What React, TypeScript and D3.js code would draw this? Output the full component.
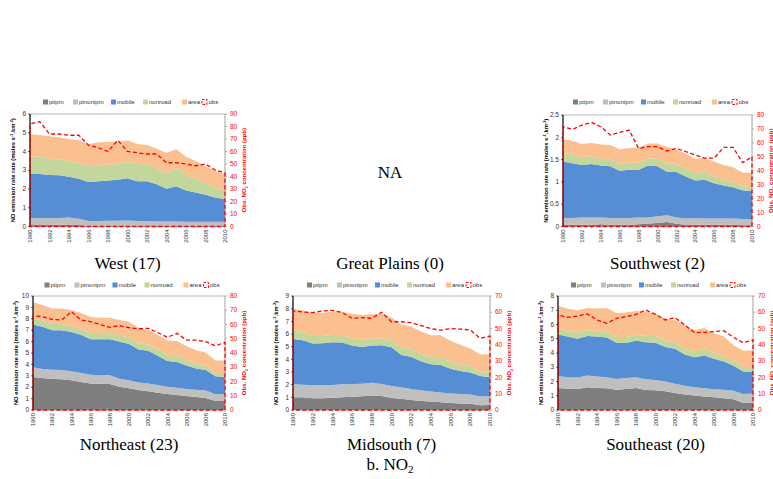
import React from "react";
import * as d3 from "d3";

// ---------- categories ----------
const years = [1990, 1991, 1992, 1993, 1994, 1995, 1996, 1997, 1998, 1999, 2000, 2001, 2002, 2003, 2004, 2005, 2006, 2007, 2008, 2009, 2010];
const yearTickLabels = [1990, 1992, 1994, 1996, 1998, 2000, 2002, 2004, 2006, 2008, 2010];
const seriesNames = ["ptipm", "ptnonipm", "mobile", "nonroad", "area"];
const obsName = "obs";

// ---------- data: stacked level (top of each layer) in moles s-1 km-2, obs in ppb ----------
// West (17)
const westPtipm = [0.08, 0.08, 0.1, 0.1, 0.1, 0.08, 0.03, 0.03, 0.03, 0.03, 0.03, 0.03, 0.03, 0.03, 0.03, 0.03, 0.03, 0.03, 0.03, 0.03, 0.03];
const westPtnonipm = [0.45, 0.45, 0.46, 0.45, 0.48, 0.42, 0.3, 0.3, 0.31, 0.31, 0.32, 0.3, 0.28, 0.27, 0.27, 0.27, 0.26, 0.26, 0.26, 0.25, 0.25];
const westMobile = [2.8, 2.8, 2.75, 2.73, 2.65, 2.55, 2.38, 2.42, 2.45, 2.5, 2.58, 2.42, 2.42, 2.25, 2.02, 2.15, 1.92, 1.82, 1.7, 1.55, 1.45];
const westNonroad = [3.75, 3.72, 3.63, 3.58, 3.48, 3.38, 3.2, 3.25, 3.3, 3.33, 3.45, 3.35, 3.32, 3.1, 2.85, 3.1, 2.75, 2.52, 2.32, 2.05, 1.9];
const westArea = [4.92, 4.88, 4.82, 4.75, 4.67, 4.6, 4.4, 4.48, 4.52, 4.52, 4.6, 4.4, 4.35, 4.15, 3.93, 4.12, 3.72, 3.5, 3.22, 2.95, 2.8];
const westObs = [82, 84, 74, 74, 73, 73, 65, 63, 60, 69, 60, 59, 58, 58, 51, 51, 50, 48.6, 50, 45, 43];

// Southwest (2)
const swPtipm = [0.04, 0.04, 0.04, 0.04, 0.05, 0.04, 0.04, 0.04, 0.05, 0.07, 0.08, 0.1, 0.06, 0.04, 0.04, 0.04, 0.04, 0.04, 0.04, 0.03, 0.03];
const swPtnonipm = [0.19, 0.19, 0.2, 0.2, 0.2, 0.19, 0.19, 0.19, 0.2, 0.2, 0.23, 0.25, 0.2, 0.18, 0.19, 0.18, 0.18, 0.18, 0.18, 0.17, 0.17];
const swMobile = [1.46, 1.42, 1.38, 1.4, 1.37, 1.35, 1.25, 1.27, 1.27, 1.37, 1.35, 1.23, 1.22, 1.12, 1.03, 1.05, 0.97, 0.92, 0.88, 0.81, 0.79];
const swNonroad = [1.65, 1.62, 1.55, 1.57, 1.52, 1.5, 1.4, 1.43, 1.43, 1.53, 1.52, 1.42, 1.4, 1.3, 1.2, 1.23, 1.12, 1.05, 1.0, 0.9, 0.88];
const swArea = [1.95, 1.92, 1.85, 1.87, 1.84, 1.83, 1.73, 1.76, 1.77, 1.86, 1.86, 1.78, 1.72, 1.63, 1.52, 1.54, 1.45, 1.38, 1.33, 1.21, 1.2];
const swObs = [71.6, 69.7, 72.8, 74.7, 71.6, 65.6, 67.5, 69.2, 56, 57.3, 57.3, 54.2, 56, 53.7, 51.3, 49, 49, 56.8, 56.8, 45.8, 50];

// Northeast (23)
const nePtipm = [2.9, 2.8, 2.72, 2.7, 2.6, 2.45, 2.32, 2.3, 2.28, 2.05, 1.9, 1.75, 1.65, 1.52, 1.4, 1.32, 1.22, 1.15, 1.05, 0.8, 0.78];
const nePtnonipm = [3.75, 3.6, 3.52, 3.5, 3.4, 3.25, 3.1, 3.05, 3.05, 2.75, 2.6, 2.42, 2.32, 2.2, 2.05, 1.95, 1.85, 1.78, 1.7, 1.38, 1.4];
const neMobile = [7.5, 7.3, 7.0, 7.0, 6.85, 6.6, 6.2, 6.2, 6.2, 6.0, 5.8, 5.3, 5.2, 4.75, 4.3, 4.2, 3.9, 3.65, 3.5, 2.95, 2.9];
const neNonroad = [8.05, 7.85, 7.55, 7.55, 7.35, 7.15, 6.75, 6.75, 6.75, 6.55, 6.35, 5.85, 5.75, 5.3, 4.85, 4.8, 4.4, 4.05, 3.9, 3.25, 3.25];
const neArea = [9.45, 9.2, 8.9, 8.9, 8.75, 8.5, 8.15, 8.1, 8.1, 7.9, 7.75, 7.2, 7.05, 6.6, 6.1, 6.05, 5.6, 5.25, 5.05, 4.35, 4.35];
const neObs = [66, 65.5, 63.6, 63.2, 69, 63.2, 62, 60, 58, 59.2, 57.8, 57, 57.3, 54.3, 51, 53.8, 49, 49, 48, 45, 47.5];

// Midsouth (7)
const msPtipm = [1.0, 1.0, 0.92, 0.92, 0.97, 1.0, 1.05, 1.08, 1.15, 1.1, 0.95, 0.88, 0.78, 0.72, 0.68, 0.62, 0.55, 0.52, 0.5, 0.38, 0.4];
const msPtnonipm = [2.05, 2.0, 1.95, 1.95, 1.97, 2.03, 2.05, 2.07, 2.15, 2.05, 1.9, 1.8, 1.65, 1.55, 1.47, 1.38, 1.3, 1.27, 1.22, 1.07, 1.1];
const msMobile = [5.6, 5.5, 5.25, 5.27, 5.35, 5.32, 5.1, 4.97, 5.1, 5.12, 4.95, 4.35, 4.2, 3.85, 3.62, 3.55, 3.25, 3.07, 2.97, 2.68, 2.6];
const msNonroad = [6.3, 6.15, 5.85, 5.85, 5.92, 5.92, 5.65, 5.52, 5.62, 5.67, 5.5, 4.95, 4.82, 4.45, 4.2, 4.17, 3.8, 3.58, 3.45, 3.0, 2.95];
const msArea = [8.0, 7.85, 7.65, 7.67, 7.75, 7.75, 7.6, 7.5, 7.55, 7.6, 7.3, 6.75, 6.6, 6.2, 5.9, 5.9, 5.45, 5.15, 4.85, 4.4, 4.4];
const msObs = [60.8, 60.2, 59.8, 60.8, 61.2, 59.8, 56.3, 56.7, 56.3, 60, 54.2, 54.2, 53.6, 51.8, 50, 49, 50, 49.7, 49.1, 44, 45.4];

// Southeast (20)
const sePtipm = [1.55, 1.5, 1.48, 1.6, 1.55, 1.52, 1.42, 1.48, 1.55, 1.4, 1.38, 1.32, 1.2, 1.08, 1.02, 0.95, 0.9, 0.82, 0.75, 0.5, 0.52];
const sePtnonipm = [2.38, 2.3, 2.28, 2.42, 2.35, 2.3, 2.18, 2.25, 2.3, 2.15, 2.1, 2.0, 1.85, 1.7, 1.6, 1.52, 1.45, 1.42, 1.35, 1.12, 1.15];
const seMobile = [5.3, 5.15, 5.0, 5.2, 5.15, 5.08, 4.72, 4.7, 4.88, 4.75, 4.72, 4.42, 4.3, 3.9, 3.7, 3.82, 3.6, 3.4, 3.1, 2.7, 2.7];
const seNonroad = [5.75, 5.55, 5.45, 5.62, 5.55, 5.52, 5.12, 5.12, 5.28, 5.2, 5.2, 4.9, 4.75, 4.3, 4.1, 4.3, 4.0, 3.75, 3.45, 3.02, 3.02];
const seArea = [7.32, 7.1, 7.0, 7.15, 7.12, 7.15, 6.8, 6.85, 6.95, 6.9, 6.78, 6.4, 6.3, 5.95, 5.6, 5.75, 5.4, 5.15, 4.55, 4.15, 4.2];
const seObs = [58.3, 56.9, 57.7, 59, 55.3, 53.2, 56.3, 57.3, 58.7, 61.4, 58.7, 55.3, 56.7, 52.2, 47.5, 47.7, 48.1, 48.7, 44.6, 41.3, 43];

// ---------- axis ticks ----------
const westLeftTicks = [0, 1, 2, 3, 4, 5, 6];
const westRightTicks = [0, 10, 20, 30, 40, 50, 60, 70, 80, 90];
const swLeftTicks = [0, 0.5, 1, 1.5, 2, 2.5];
const swRightTicks = [0, 10, 20, 30, 40, 50, 60, 70, 80];
const neLeftTicks = [0, 1, 2, 3, 4, 5, 6, 7, 8, 9, 10];
const neRightTicks = [0, 10, 20, 30, 40, 50, 60, 70, 80];
const msLeftTicks = [0, 1, 2, 3, 4, 5, 6, 7, 8, 9];
const msRightTicks = [0, 10, 20, 30, 40, 50, 60, 70];
const seLeftTicks = [0, 1, 2, 3, 4, 5, 6, 7, 8];
const seRightTicks = [0, 10, 20, 30, 40, 50, 60, 70];

const COLORS = ["#7f7f7f", "#bfbfbf", "#558ed5", "#c3d69b", "#fac090"];
const RED = "#ff0000";
const SANS = "'Liberation Sans', Arial, sans-serif";
const SERIF = "'Liberation Serif', 'Times New Roman', serif";

type PanelProps = {
  x0: number; x1: number; yTop: number; yBot: number;
  leftTicks: number[]; rightTicks: number[];
  layers: number[][]; obs: number[];
  title: string; titleY: number; legendY: number;
};

const legendOffsets = [-84.5, -54.5, -16.5, 15.5, 54.5, 74.5];

function Panel(p: PanelProps) {
  const x = d3.scaleLinear().domain([years[0], years[years.length - 1]]).range([p.x0, p.x1]);
  const yL = d3.scaleLinear().domain([0, p.leftTicks[p.leftTicks.length - 1]]).range([p.yBot, p.yTop]);
  const yR = d3.scaleLinear().domain([0, p.rightTicks[p.rightTicks.length - 1]]).range([p.yBot, p.yTop]);
  const cx = (p.x0 + p.x1) / 2;
  const cy = (p.yTop + p.yBot) / 2;

  const areas = p.layers.map((layer, li) => {
    const gen = d3.area<number>()
      .x((_, i) => x(years[i]))
      .y0((_, i) => (li === 0 ? yL(0) : yL(p.layers[li - 1][i])))
      .y1((d) => yL(d));
    return gen(layer) || "";
  });

  const obsLine = d3.line<number>().x((_, i) => x(years[i])).y((d) => yR(d));
  const obsPath =
    `M${x(years[0])},${yR(0)}L` +
    (obsLine(p.obs) || "").slice(1) +
    `L${x(years[years.length - 1])},${yR(0)}Z`;

  const fmt = (v: number) => String(v);

  return (
    <g>
      {areas.map((d, i) => (
        <path key={i} d={d} fill={COLORS[i]} stroke="none" />
      ))}
      {/* plot frame */}
      <line x1={p.x0} x2={p.x1} y1={p.yTop} y2={p.yTop} stroke="#a6a6a6" strokeWidth={0.8} />
      <line x1={p.x1} x2={p.x1} y1={p.yTop} y2={p.yBot} stroke="#8c8c8c" strokeWidth={0.8} />
      <line x1={p.x0} x2={p.x1} y1={p.yBot} y2={p.yBot} stroke="#8c8c8c" strokeWidth={0.8} />
      <line x1={p.x0} x2={p.x0} y1={p.yTop} y2={p.yBot} stroke="#000" strokeWidth={1.2} />
      {/* obs */}
      <path d={obsPath} fill="none" stroke={RED} strokeWidth={1.3} strokeDasharray="4,2.5" />
      {/* x ticks */}
      {years.map((yr) => (
        <line key={yr} x1={x(yr)} x2={x(yr)} y1={p.yBot} y2={p.yBot + 2} stroke="#8c8c8c" strokeWidth={0.6} />
      ))}
      {yearTickLabels.map((yr) => (
        <text key={yr} transform={`translate(${x(yr) + 2.1},${p.yBot + 3}) rotate(-90)`}
          textAnchor="end" fontFamily={SANS} fontSize={6} fill="#333">{yr}</text>
      ))}
      {/* left ticks */}
      {p.leftTicks.map((t) => (
        <g key={t}>
          <line x1={p.x0 - 2} x2={p.x0} y1={yL(t)} y2={yL(t)} stroke="#000" strokeWidth={0.6} />
          <text x={p.x0 - 4} y={yL(t) + 2.2} textAnchor="end" fontFamily={SANS} fontSize={6.5} fill="#333">{fmt(t)}</text>
        </g>
      ))}
      {/* right ticks */}
      {p.rightTicks.map((t) => (
        <g key={t}>
          <line x1={p.x1} x2={p.x1 + 2} y1={yR(t)} y2={yR(t)} stroke="#8c8c8c" strokeWidth={0.6} />
          <text x={p.x1 + 5} y={yR(t) + 2.2} textAnchor="start" fontFamily={SANS} fontSize={6.5} fill={RED}>{fmt(t)}</text>
        </g>
      ))}
      {/* axis titles */}
      <text transform={`translate(${p.x0 - 15},${cy}) rotate(-90)`} textAnchor="middle"
        fontFamily={SANS} fontSize={5.8} fontWeight="bold" fill="#000">
        NO emission rate rate (moles s<tspan fontSize={4} dy={-2}>-1</tspan><tspan dy={2}>.km</tspan>
        <tspan fontSize={4} dy={-2}>-2</tspan><tspan dy={2}>)</tspan>
      </text>
      <text transform={`translate(${p.x1 + 21},${cy}) rotate(-90)`} textAnchor="middle"
        fontFamily={SANS} fontSize={6} fontWeight="bold" fill={RED}>
        Obs. NO<tspan fontSize={4.2} dy={1.5}>2</tspan><tspan dy={-1.5}> concentration (ppb)</tspan>
      </text>
      {/* legend */}
      {seriesNames.map((n, i) => (
        <g key={n}>
          <rect x={cx + legendOffsets[i]} y={p.legendY - 2.5} width={5} height={5} fill={COLORS[i]} />
          <text x={cx + legendOffsets[i] + 6} y={p.legendY + 2.2} fontFamily={SANS} fontSize={6} fill="#333">{n}</text>
        </g>
      ))}
      <rect x={cx + legendOffsets[5]} y={p.legendY - 2.5} width={5} height={5} fill="none" stroke={RED} strokeWidth={1} strokeDasharray="2.5,1.5" />
      <text x={cx + legendOffsets[5] + 6.5} y={p.legendY + 2.2} fontFamily={SANS} fontSize={6} fill="#333">{obsName}</text>
      {/* title */}
      <text x={cx} y={p.titleY} textAnchor="middle" fontFamily={SERIF} fontSize={17} fill="#000">{p.title}</text>
    </g>
  );
}

export default function App() {
  return (
    <svg width={773} height={479} style={{ position: "absolute", left: 0, top: 0, background: "#fff" }}>
      <rect width={773} height={479} fill="#fff" />
      <Panel x0={30} x1={225} yTop={114} yBot={226.5} leftTicks={westLeftTicks} rightTicks={westRightTicks}
        layers={[westPtipm, westPtnonipm, westMobile, westNonroad, westArea]} obs={westObs}
        title="West (17)" titleY={269} legendY={102} />
      <Panel x0={563} x1={752} yTop={115} yBot={226.5} leftTicks={swLeftTicks} rightTicks={swRightTicks}
        layers={[swPtipm, swPtnonipm, swMobile, swNonroad, swArea]} obs={swObs}
        title="Southwest (2)" titleY={269} legendY={102} />
      <Panel x0={33} x1={225} yTop={296} yBot={410} leftTicks={neLeftTicks} rightTicks={neRightTicks}
        layers={[nePtipm, nePtnonipm, neMobile, neNonroad, neArea]} obs={neObs}
        title="Northeast (23)" titleY={450} legendY={285} />
      <Panel x0={293} x1={490} yTop={296} yBot={410} leftTicks={msLeftTicks} rightTicks={msRightTicks}
        layers={[msPtipm, msPtnonipm, msMobile, msNonroad, msArea]} obs={msObs}
        title="Midsouth (7)" titleY={450} legendY={285} />
      <Panel x0={558} x1={753} yTop={296} yBot={410} leftTicks={seLeftTicks} rightTicks={seRightTicks}
        layers={[sePtipm, sePtnonipm, seMobile, seNonroad, seArea]} obs={seObs}
        title="Southeast (20)" titleY={450} legendY={285} />
      <text x={390} y={178} textAnchor="middle" fontFamily={SERIF} fontSize={17}>NA</text>
      <text x={390} y={269} textAnchor="middle" fontFamily={SERIF} fontSize={17}>Great Plains (0)</text>
      <text x={390} y={470} textAnchor="middle" fontFamily={SERIF} fontSize={17}>
        b. NO<tspan fontSize={11} dy={3}>2</tspan>
      </text>
    </svg>
  );
}
